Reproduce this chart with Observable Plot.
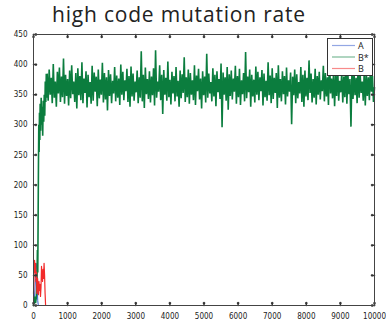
<!DOCTYPE html>
<html><head><meta charset="utf-8">
<script src="https://cdn.jsdelivr.net/npm/d3@7"></script>
<script src="https://cdn.jsdelivr.net/npm/@observablehq/plot@0.6"></script>
<style>
body{margin:0;background:#fff;}
#wrap{position:relative;width:386px;height:322px;overflow:hidden;}
#title{position:absolute;left:52px;top:0;font-family:"Open Sans";font-size:21px;letter-spacing:0.8px;line-height:28px;color:#222;white-space:nowrap;}
#legend{position:absolute;left:327px;top:38px;}
</style></head><body>
<div id="wrap"><div id="chart"></div><div id="title">high code mutation rate</div><div id="legend"></div></div>
<script>
const seriesNames = ["A", "B*", "B"];
const seriesColors = ["#3a5fcd", "#0b7d3e", "#f22a2a"];
const xTicks = [0,1000,2000,3000,4000,5000,6000,7000,8000,9000,10000];
const yTicks = [0,50,100,150,200,250,300,350,400,450];

// series A (blue)
const aX = [0,30,60,80,95,110,125,140];
const aY = [0,15,45,70,60,30,8,0];

// series B (red)
const bX = [0,15,30,45,60,75,90,100,120,130,145,160,175,190,205,220,235,250,265,280,295,310,325,340,355];
const bY = [20,45,75,55,70,40,55,20,45,30,18,40,25,35,15,30,65,50,40,60,45,70,50,20,0];

// series B* (green): early ramp
const bsEarlyX = [0,20,40,60,80,100,115,125,135,145,155,165,175,185,195,210,225,240,255,270,285,300,315,330,345,360,375,390];
const bsEarlyY = [0,8,15,4,12,35,92,55,140,230,300,255,320,275,335,290,345,300,330,282,340,305,350,315,372,338,385,345];
// series B* (green): samples every 30 steps from 400 to 10000
const bsStart = 400, bsStep = 30;
const bsY = [
385,340,392,350,378,336,401,345,372,330,388,352,395,338,380,346,410,335,383,348,
376,332,390,344,399,351,372,338,386,327,394,349,381,341,404,336,377,353,389,329,
383,346,371,335,398,340,387,355,380,331,392,344,375,350,403,337,386,342,379,324,
391,348,384,336,373,352,396,339,382,345,377,333,400,350,388,341,374,356,393,338,
381,330,397,347,385,340,372,354,390,336,379,345,422,339,383,328,395,351,376,343,
389,337,380,349,394,332,424,345,372,355,399,341,383,318,391,350,378,340,405,346,
375,334,388,352,381,339,396,347,373,330,390,344,384,353,412,338,379,346,392,335,
386,350,374,341,399,333,382,356,393,342,377,327,389,349,380,337,418,345,385,352,
371,339,394,347,383,331,389,354,376,343,402,296,387,350,379,340,396,325,384,348,
390,342,377,355,398,335,381,346,393,333,374,351,386,339,421,344,380,354,392,330,
383,347,375,337,397,350,388,341,379,356,391,332,385,346,373,340,404,349,382,336,
394,343,378,353,386,328,399,345,376,339,389,351,381,334,395,347,374,355,387,301,
380,349,392,336,384,344,371,352,396,338,383,330,390,347,378,341,407,353,385,337,
376,345,393,334,381,350,388,342,374,356,398,339,386,347,379,333,416,352,377,344,
389,331,382,348,395,340,373,354,387,337,380,346,402,335,384,351,376,297,393,343,
385,349,378,336,397,345,383,353,372,340,390,332,386,348,379,341,394,355,381,338,
362];

const A = aX.map((x, i) => ({x, y: aY[i]}));
const B = bX.map((x, i) => ({x, y: bY[i]}));
const BS = bsEarlyX.map((x, i) => ({x, y: bsEarlyY[i]}))
  .concat(bsY.map((y, i) => ({x: bsStart + i * bsStep, y})));

const tickFont = "'Liberation Sans Narrow','DejaVu Sans Condensed',sans-serif";
const tickColor = "#333";
const plot = Plot.plot({
  width: 386, height: 322,
  marginTop: 34, marginBottom: 17, marginLeft: 33, marginRight: 12,
  style: {fontFamily: tickFont, fontSize: "8px", color: "#222", background: "#fff"},
  x: {domain: [0, 10000]},
  y: {domain: [0, 450]},
  marks: [
    Plot.line(A, {x: "x", y: "y", stroke: seriesColors[0], strokeWidth: 1}),
    Plot.line(BS, {x: "x", y: "y", stroke: seriesColors[1], strokeWidth: 1.6, strokeLinejoin: "miter", strokeMiterlimit: 2}),
    Plot.line(B, {x: "x", y: "y", stroke: seriesColors[2], strokeWidth: 1.2}),
    Plot.vector(xTicks, {x: d => d, y: 0, length: 3, rotate: 0, anchor: "start", stroke: tickColor}),
    Plot.vector(xTicks, {x: d => d, y: 450, length: 3, rotate: 180, anchor: "start", stroke: tickColor}),
    Plot.vector(yTicks, {x: 0, y: d => d, length: 3, rotate: 90, anchor: "start", stroke: tickColor}),
    Plot.vector(yTicks, {x: 10000, y: d => d, length: 3, rotate: 270, anchor: "start", stroke: tickColor}),
    Plot.frame({stroke: "#444"}),
    Plot.axisX({ticks: xTicks, tickSize: 0, tickPadding: 8, tickFormat: d => String(d), label: null}),
    Plot.axisY({ticks: yTicks, tickSize: 0, tickPadding: 6, tickFormat: d => String(d), label: null})
  ]
});
document.getElementById("chart").appendChild(plot);

// legend
const lg = d3.select("#legend").append("svg").attr("width", 46).attr("height", 38);
lg.append("rect").attr("x", 0.5).attr("y", 0.5).attr("width", 45).attr("height", 37)
  .attr("fill", "#fff").attr("stroke", "#333");
seriesNames.forEach((name, i) => {
  const yy = 7.5 + i * 11.5;
  lg.append("line").attr("x1", 5).attr("x2", 28).attr("y1", yy).attr("y2", yy)
    .attr("stroke", seriesColors[i]).attr("stroke-opacity", 0.55).attr("stroke-width", 1.2);
  lg.append("text").attr("x", 31).attr("y", yy + 3.5).text(name)
    .attr("font-family", "'Open Sans',sans-serif").attr("font-size", 9).attr("fill", "#222");
});
</script>
</body></html>
